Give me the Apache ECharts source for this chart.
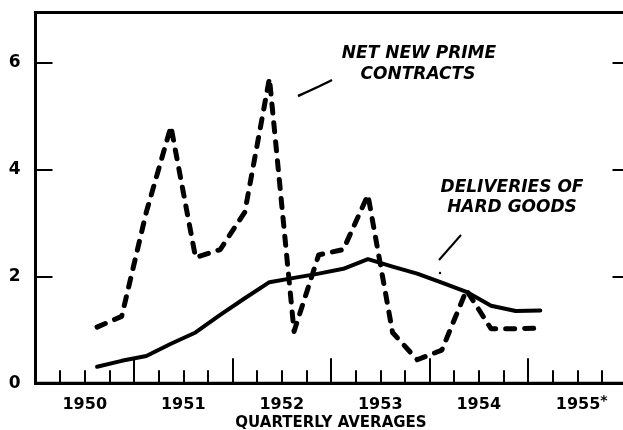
<!DOCTYPE html>
<html>
<head>
<meta charset="utf-8">
<script src="https://cdn.jsdelivr.net/npm/echarts@6/dist/echarts.min.js"></script>
<style>
  html, body { margin: 0; padding: 0; background: #fff; }
  #chart { width: 623px; height: 430px; }
</style>
</head>
<body>
<div id="chart"></div>
<script>
// ---- data ----
const years = ['1950', '1951', '1952', '1953', '1954', '1955*'];
const quarters = ['1950 Q3', '1950 Q4',
  '1951 Q1', '1951 Q2', '1951 Q3', '1951 Q4',
  '1952 Q1', '1952 Q2', '1952 Q3', '1952 Q4',
  '1953 Q1', '1953 Q2', '1953 Q3', '1953 Q4',
  '1954 Q1', '1954 Q2', '1954 Q3', '1954 Q4',
  '1955 Q1'];
const netNewPrimeContracts = [1.05, 1.25, 3.2, 4.8, 2.35, 2.5, 3.2, 5.7, 0.97, 2.4, 2.5, 3.52, 0.95, 0.44, 0.62, 1.74, 1.02, 1.02, 1.03];
const deliveriesHardGoods = [0.31, 0.42, 0.51, 0.74, 0.95, 1.28, 1.59, 1.89, 1.97, 2.05, 2.14, 2.32, 2.18, 2.05, 1.88, 1.71, 1.45, 1.35, 1.36];
const yTickValues = [0, 2, 4, 6];
const xTitle = 'QUARTERLY AVERAGES';

// quarter position on a quarterly value axis: 0 = start of 1950, data at mid-quarter
function qpos(s) {
  const parts = s.split(' Q');
  return (Number(parts[0]) - Number(years[0].replace('*', ''))) * 4 + Number(parts[1]) - 0.5;
}
const totalQuarters = years.length * 4;

const font = '"DejaVu Sans", "Liberation Sans", sans-serif';
const chart = echarts.init(document.getElementById('chart'), null, { renderer: 'canvas' });

const option = {
  backgroundColor: '#fff',
  animation: false,
  grid: {
    left: 35.5, right: -3.5, top: 12.5, bottom: 46.7,
    outerBoundsMode: 'none',
    show: true, borderColor: '#000', borderWidth: 3, backgroundColor: 'transparent'
  },
  xAxis: [
    {
      type: 'value', min: 0, max: totalQuarters, interval: 1,
      axisLine: { show: true, lineStyle: { color: '#000', width: 3 } },
      axisTick: { show: true, inside: true, length: 13, lineStyle: { color: '#000', width: 2 } },
      axisLabel: { show: false },
      splitLine: { show: false },
      name: xTitle, nameLocation: 'middle', nameGap: 32,
      nameTextStyle: { color: '#000', fontSize: 15, fontWeight: 'bold', fontFamily: font }
    },
    {
      type: 'category', data: years, boundaryGap: true, position: 'bottom',
      axisLine: { show: false },
      axisTick: { show: true, inside: true, length: 25, interval: 0, lineStyle: { color: '#000', width: 2 } },
      axisLabel: {
        interval: 0,
        color: '#000', fontSize: 16, fontWeight: 'bold', fontFamily: font, margin: 11,
        formatter: function (v) {
          return v.endsWith('*')
            ? '{p|}{n|' + v.slice(0, -1) + '}{s|*}'
            : '{n|' + v + '}';
        },
        rich: {
          n: { fontSize: 16, fontWeight: 'bold', fontFamily: font, color: '#000', lineHeight: 19, verticalAlign: 'bottom' },
          p: { width: 9, lineHeight: 19 },
          s: { fontSize: 14, fontWeight: 'bold', fontFamily: font, color: '#000', lineHeight: 12, verticalAlign: 'top' }
        }
      },
      splitLine: { show: false }
    }
  ],
  yAxis: [
    {
      type: 'value', min: 0, max: 6.93, interval: 2,
      axisLine: { show: true, lineStyle: { color: '#000', width: 3 } },
      axisTick: { show: true, inside: true, length: 17, customValues: [2, 4, 6], lineStyle: { color: '#000', width: 2 } },
      axisLabel: {
        customValues: yTickValues, color: '#000', fontSize: 17, fontWeight: 'bold', fontFamily: font, margin: 15
      },
      splitLine: { show: false }
    },
    {
      type: 'value', min: 0, max: 6.93, interval: 2, position: 'right',
      axisLine: { show: false },
      axisTick: { show: true, inside: true, length: 14, customValues: [2, 4, 6], lineStyle: { color: '#000', width: 2 } },
      axisLabel: { show: false },
      splitLine: { show: false }
    }
  ],
  series: [
    {
      name: 'NET NEW PRIME CONTRACTS', type: 'line', xAxisIndex: 0, yAxisIndex: 0,
      data: quarters.map((q, i) => [qpos(q), netNewPrimeContracts[i]]),
      showSymbol: false, symbol: 'none',
      lineStyle: { color: '#000', width: 5, type: [9, 10], cap: 'round', join: 'round' },
      z: 3
    },
    {
      name: 'DELIVERIES OF HARD GOODS', type: 'line', xAxisIndex: 0, yAxisIndex: 0,
      data: quarters.map((q, i) => [qpos(q), deliveriesHardGoods[i]]),
      showSymbol: false, symbol: 'none',
      lineStyle: { color: '#000', width: 4, type: 'solid', cap: 'round', join: 'round' },
      z: 4
    }
  ],
  graphic: [
    { type: 'text', x: 419, y: 54, style: { text: 'NET NEW PRIME', fill: '#000', fontSize: 17, fontWeight: 'bold', fontStyle: 'italic', fontFamily: font, align: 'center', verticalAlign: 'middle' } },
    { type: 'text', x: 418, y: 75, style: { text: 'CONTRACTS', fill: '#000', fontSize: 17, fontWeight: 'bold', fontStyle: 'italic', fontFamily: font, align: 'center', verticalAlign: 'middle' } },
    { type: 'text', x: 512, y: 188, style: { text: 'DELIVERIES OF', fill: '#000', fontSize: 17, fontWeight: 'bold', fontStyle: 'italic', fontFamily: font, align: 'center', verticalAlign: 'middle' } },
    { type: 'text', x: 512, y: 208, style: { text: 'HARD GOODS', fill: '#000', fontSize: 17, fontWeight: 'bold', fontStyle: 'italic', fontFamily: font, align: 'center', verticalAlign: 'middle' } },
    { type: 'bezierCurve', shape: { x1: 298, y1: 96, cpx1: 321.6, cpy1: 85.4, x2: 332, y2: 80 }, style: { stroke: '#000', lineWidth: 2.5, fill: null } },
    { type: 'line', shape: { x1: 461, y1: 235, x2: 439, y2: 260 }, style: { stroke: '#000', lineWidth: 2 } },
    { type: 'circle', shape: { cx: 440, cy: 273, r: 1.2 }, style: { fill: '#000' } }
  ]
};
chart.setOption(option);
</script>
</body>
</html>
